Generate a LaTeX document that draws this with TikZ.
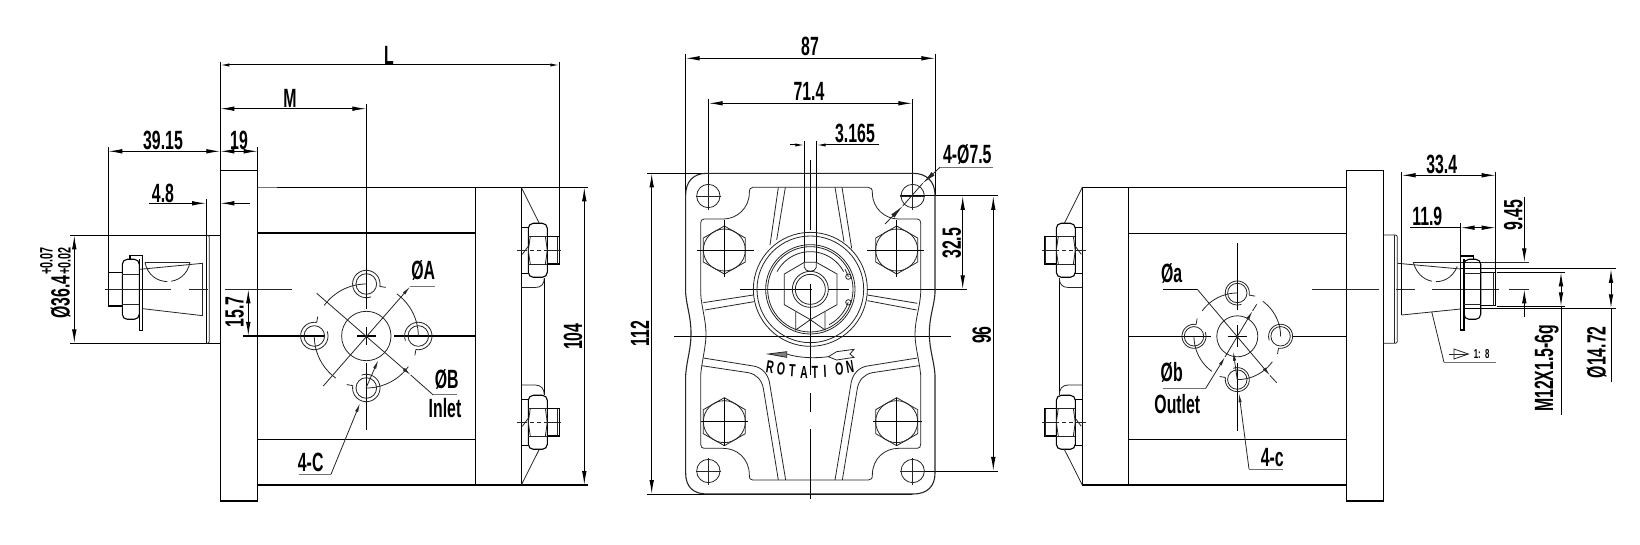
\documentclass[tikz,border=0pt]{standalone}
\usepackage{fontspec}
\usetikzlibrary{arrows.meta}
\newfontfamily\labf[FakeStretch=0.6,UprightFont=* Bold]{Liberation Sans}
\tikzset{
  dimtip/.tip={Latex[length=7pt,width=2.3pt]},
  smalltip/.tip={Latex[length=4.5pt,width=1.6pt]},
  ln/.style={line width=.55pt,black},
  thin line/.style={line width=.4pt,black!85},
  dl/.style={line width=.5pt,black},
  land/.style={line width=.5pt,black!55},
  lab/.style={inner sep=0pt,font=\labf\fontsize{13.2}{14}\selectfont},
  labs/.style={inner sep=0pt,font=\labf\fontsize{9}{10}\selectfont},
}
% arc with visual (counter-clockwise) angles: centre x, y, radius, from, to
\newcommand\xarc[6][thin line]{\draw[#1,domain=#5:#6,samples=36,variable=\t] plot ({#2+#4*cos(\t)},{#3-#4*sin(\t)});}
% port pattern: centre x, y, big radius, bolt circle radius, inner hole r, outer r
\newcommand\portpat[6]{%
  \draw[thin line] (#1,#2) circle[radius=#3];
  \foreach \a/\gx/\gy in {90/0/-1,180/-1/0,270/0/1,0/1/0}{
    \pgfmathsetmacro\hx{#1+\gx*#4}\pgfmathsetmacro\hy{#2+\gy*#4}
    \draw[thin line] (\hx,\hy) circle[radius=#5];
    \pgfmathsetmacro\sa{\a-100}\pgfmathsetmacro\sb{\a+200}
    \xarc{\hx}{\hy}{#6}{\sa}{\sb}
    \pgfmathsetmacro\ea{\a+54}
    \xarc{#1}{#2}{#4}{\a}{\ea}
    \draw[thin line] ({\hx+#6*cos(\a-100)},{\hy-#6*sin(\a-100)}) -- ({\hx+(#6+6)*cos(\a-100)},{\hy-(#6+6)*sin(\a-100)});
  }
}
% rear end of body with the two bolts: x0 = body end, direction +1 / -1
\newcommand\rearnut[1]{%
  \draw[ln] (0,#1-23) -- (7,#1-23) (0,#1+23) -- (7,#1+23);
  \draw[ln,rounded corners=2.5pt] (7,#1-27) rectangle (26,#1+27);
  \draw[thin line] (7,#1-14) -- (26,#1-14) (7,#1+14) -- (26,#1+14);
  \draw[thin line] (9,#1-14) -- (7,#1) -- (9,#1+14) (24,#1-14) -- (26,#1) -- (24,#1+14);
  \draw[ln] (26,#1-13.7) -- (38,#1-13.7) -- (38,#1+13.7) -- (26,#1+13.7);
  \draw[thin line] (36.5,#1-13.7) -- (36.5,#1+13.7);
  \draw[thin line] (-4,#1) -- (6,#1) (9,#1) -- (13,#1) (16,#1) -- (20,#1) (23,#1) -- (40,#1);
  \draw[thin line] (1,#1+4) -- (7,#1-4);
}
\newcommand\rearend[2]{%
  \begin{scope}[shift={(#1,0)},xscale=#2]
    \draw[ln] (0,187.3) -- (0,485);
    \rearnut{250.3}\rearnut{422.3}
    \draw[thin line] (0,187.3) -- (18,223.3) (0,485) -- (18,449.3);
    \draw[ln] (23,278) -- (23,395);
    \draw[thin line] (0,287.5) -- (14,287.5) .. controls (20,287.5) and (23,284) .. (23,278);
    \draw[thin line] (0,385) -- (14,385) .. controls (20,385) and (23,389) .. (23,395);
  \end{scope}
}
\newcommand\hexbolt[2]{%
  \begin{scope}[shift={(#1,#2)}]
    \draw[thin line] (0,-72) -- (63,-36) -- (63,36) -- (0,72) -- (-63,36) -- (-63,-36) -- cycle;
    \draw[thin line] (0,0) circle[radius=63];
  \end{scope}
}
\newcommand\fholer[2]{%
  \draw[thin line] (#1,#2) circle[radius=35];
  \draw[thin line] (#1-38,#2) -- (#1+38,#2) (#1,#2-38) -- (#1,#2+42);
}
\begin{document}
\begin{tikzpicture}[x=.5pt,y=-.5pt]
\useasboundingbox (0,0) rectangle (1640,545);
\fill[white] (0,0) rectangle (1640,545);

%%%%%%%%%%%%%%%% LEFT VIEW
\draw[ln] (220.3,62) -- (220.3,501) -- (257.7,501) -- (257.7,170.7) -- (220.3,170.7);
\draw[ln] (257.7,147) -- (257.7,170.7);
\draw[land] (257.7,187.3) -- (277,187.3);
\draw[ln] (277,187.3) -- (588,187.3);
\draw[ln] (257.7,485) -- (588,485);
\draw[ln] (257.7,233) -- (475.3,233) (257.7,439.3) -- (475.3,439.3);
\draw[ln] (475.3,187.3) -- (475.3,485);
\rearend{521.3}{1}
% dims
\draw[dl,{smalltip}-{smalltip}] (220.3,65) -- (559.3,65);
\draw[dl] (559.3,62) -- (559.3,237);
\node[lab] (L) at (389,55) {L};
\draw[dl,{dimtip}-{dimtip}] (220.3,108.7) -- (366.3,108.7);
\node[lab] (M) at (290,98) {M};
\draw[dl,{dimtip}-{dimtip}] (108.3,151.3) -- (220.3,151.3);
\draw[dl,{dimtip}-{dimtip}] (220.3,151.3) -- (257.7,151.3);
\node[lab] (d3915) at (163,140) {39.15};
\node[lab] (d19) at (239,140) {19};
\draw[dl] (108.3,147) -- (108.3,306);
\draw[dl,-{dimtip}] (149,203.3) -- (206,203.3);
\draw[dl,-{dimtip}] (250,203.3) -- (220.3,203.3);
\node[lab] (d48) at (163,193) {4.8};
\draw[dl] (206,199) -- (206,343);
\draw[dl] (70,235.3) -- (220.3,235.3) (70,343.3) -- (220.3,343.3);
\draw[dl,{dimtip}-{dimtip}] (74.3,235.3) -- (74.3,343.3);
\node[lab,rotate=90] (d364) at (60.5,297) {Ø36.4};
\node[labs,rotate=90] (tolu) at (46.5,261) {+0.07};
\node[labs,rotate=90] (toll) at (64.5,261) {+0.02};
% shaft
\draw[thin line,rounded corners=1pt] (206,235.3) -- (209.3,235.3) -- (209.3,343.3) -- (206,343.3);
\draw[thin line] (202.7,263.3) -- (202.7,315.7);
\draw[thin line] (202.7,263.3) -- (140,269.3) (202.7,315.7) -- (143,308.7);
\draw[thin line] (145,262.3) -- (190,262.3);
\draw[thin line,dash pattern=on 16pt off 2pt] (145,262.3) .. controls (150,288) and (185,288) .. (190,262.3);
\draw[ln] (139.3,259.3) -- (139.3,330.7) -- (142.7,330.7) -- (142.7,255.3) -- (130,255.3) -- (130,259.3);
\draw[ln,rounded corners=2.5pt] (122.3,259.3) rectangle (139.3,319.3);
\draw[thin line] (122.3,274) -- (139.3,274) (122.3,304.3) -- (139.3,304.3);
\draw[ln] (122.3,272.3) -- (108.3,272.3) -- (108.3,306) -- (122.3,306);
% centre lines
\draw[thin line] (105,289.3) -- (171,289.3) (189,289.3) -- (208,289.3) (225,289.3) -- (292,289.3);
\draw[ln] (243,336) -- (325,336) (357,336) -- (376,336) (394,336) -- (475.3,336);
\draw[ln] (366.3,104) -- (366.3,309.3) (366.3,326.7) -- (366.3,345) (366.3,363.3) -- (366.3,430);
\draw[dl,{dimtip}-{dimtip}] (248.3,289.3) -- (248.3,336);
\node[lab,rotate=90] (d157) at (234.7,311.7) {15.7};
\node[lab,rotate=90] (d104) at (573,336.7) {104};
\draw[dl,{dimtip}-{dimtip}] (584.3,187.3) -- (584.3,485);
% port
\portpat{366.3}{336}{24.7}{52}{10.3}{13.7}
\draw[thin line,-{smalltip}] (323.3,386) -- (410,286.7);
\draw[land] (410,286.7) -- (435,286.7);
\draw[thin line,-{smalltip}] (316.7,293.3) -- (410.7,375);
\draw[thin line] (410.7,375) -- (433.3,395);
\draw[land] (433.3,395) -- (456.7,395);
\node[lab] (oA) at (423.3,270.7) {ØA};
\node[lab] (oB) at (446.7,379.3) {ØB};
\node[lab] (inl) at (445,407.7) {Inlet};
\draw[land] (299,474.3) -- (331,474.3);
\draw[thin line,-{smalltip}] (331,474.3) -- (360,403.3);
\draw[thin line,-{smalltip}] (366,388) -- (378.3,360);
\node[lab] (c4C) at (310.7,462.7) {4-C};

%%%%%%%%%%%%%%%% FRONT VIEW
\draw[dl,{dimtip}-{dimtip}] (685.7,58.3) -- (935.3,58.3);
\draw[dl] (685.7,54) -- (685.7,196) (935.3,54) -- (935.3,196);
\node[lab] (d87) at (810,46.7) {87};
\draw[dl,{dimtip}-{dimtip}] (708.7,103.3) -- (912.3,103.3);
\draw[dl] (708.7,99) -- (708.7,210) (912.3,99) -- (912.3,210);
\node[lab] (d714) at (809,91.7) {71.4};
\draw[dl,-{smalltip}] (790,145) -- (804.3,145);
\draw[dl,-{smalltip}] (879,145) -- (816.7,145);
\draw[dl] (804.3,141) -- (804.3,262) (816.7,141) -- (816.7,262);
\draw[dl] (810.3,160) -- (810.3,230);
\node[lab] (d3165) at (855,133) {3.165};
\draw[dl] (647.3,173.3) -- (912,173.3) (647.3,494) -- (912,494);
\draw[dl,{dimtip}-{dimtip}] (651.7,173.3) -- (651.7,494);
\node[lab,rotate=90] (d112) at (640,333.3) {112};
\draw[dl] (900,196) -- (997.7,196) (900,471) -- (997.7,471);
\draw[dl,{dimtip}-{dimtip}] (962.7,196) -- (962.7,289.3);
\draw[dl,{dimtip}-{dimtip}] (993.3,196) -- (993.3,471);
\node[lab,rotate=90] (d325) at (951.7,243.3) {32.5};
\node[lab,rotate=90] (d96) at (981.7,335) {96};
\draw[dl] (866.7,289.3) -- (967.3,289.3);
\draw[dl] (740,289.3) -- (812,289.3) (828,289.3) -- (849,289.3);
\draw[dl] (674.3,336.3) -- (950.7,336.3);
\draw[dl] (810.3,284) -- (810.3,375) (810.3,393) -- (810.3,411.7) (810.3,429) -- (810.3,499.3);
\draw[thin line,-{dimtip}] (885,224) -- (902.7,206);
\draw[thin line] (902.7,206) -- (922.7,183.3);
\draw[thin line,-{dimtip}] (940,167.3) -- (922.7,183.3);
\draw[land] (940,167.3) -- (992.7,167.3);
\node[lab] (d75) at (967.3,154) {4-Ø7.5};
\begin{scope}[shift={(630,130)},x=.16667pt,y=-.16667pt]
  % outer outline
  \draw[ln,black!85] (230,130) .. controls (190,130) and (167,155) .. (167,195) -- (167,490) .. controls (170,530) and (183,560) .. (183,610) .. controls (183,660) and (170,690) .. (167,735) -- (167,1030) .. controls (167,1070) and (190,1092) .. (230,1092) -- (850,1092) .. controls (890,1092) and (915,1070) .. (915,1030) -- (915,735) .. controls (912,690) and (898,660) .. (898,610) .. controls (898,560) and (912,530) .. (915,490) -- (915,195) .. controls (915,155) and (890,130) .. (850,130) -- cycle;
  % recess
  \draw[thin line] (368,172) -- (715,172) .. controls (724,172) and (727,178) .. (727,188) .. controls (727,235) and (765,267) .. (805,267) -- (862,267) .. controls (869,267) and (872,272) .. (872,280) -- (872,490) .. controls (870,530) and (855,570) .. (855,612) .. controls (855,650) and (868,690) .. (872,735) -- (872,942) .. controls (872,950) and (869,955) .. (862,955) -- (805,955) .. controls (765,955) and (727,985) .. (727,1035) .. controls (727,1045) and (724,1050) .. (715,1050) -- (368,1050) .. controls (360,1050) and (358,1045) .. (358,1035) .. controls (358,985) and (320,955) .. (280,955) -- (222,955) .. controls (215,955) and (212,950) .. (212,942) -- (212,735) .. controls (216,690) and (228,650) .. (228,612) .. controls (228,570) and (214,530) .. (212,490) -- (212,280) .. controls (212,272) and (215,267) .. (222,267) -- (280,267) .. controls (320,267) and (358,235) .. (358,188) .. controls (358,178) and (361,172) .. (368,172) -- cycle;
  % ribs
  \draw[thin line] (466,172) -- (440,330) (445,172) -- (420,345);
  \draw[thin line] (615,172) -- (642,335) (636,172) -- (665,355);
  \draw[thin line] (220,518) -- (370,495) (225,540) -- (372,515);
  \draw[thin line] (712,495) -- (862,520) (712,512) -- (860,540);
  \draw[thin line] (220,684) -- (370,708) .. controls (395,712) and (412,730) .. (418,755) -- (467,1050);
  \draw[thin line] (215,707) -- (355,728) .. controls (380,733) and (395,750) .. (400,775) -- (445,1050);
  \draw[thin line] (862,684) -- (712,708) .. controls (687,712) and (670,730) .. (664,755) -- (615,1050);
  \draw[thin line] (867,707) -- (727,728) .. controls (702,733) and (687,750) .. (682,775) -- (637,1050);
  % corner holes
  \fholer{235}{198}\fholer{848}{198}\fholer{235}{1023}\fholer{848}{1023}
  % hex bolts
  \hexbolt{283}{360}\hexbolt{800}{360}\hexbolt{283}{875}\hexbolt{800}{875}
  \draw[dl] (200,360) -- (372,360) (283,270) -- (283,442);
  \draw[dl] (712,360) -- (882,360) (800,270) -- (800,442);
  \draw[dl] (212,875) -- (355,875) (283,803) -- (283,947);
  \draw[dl] (730,875) -- (875,875) (800,803) -- (800,947);
  % centre boss
  \foreach \r in {171,160,134,128}{\draw[thin line] (541,478) circle[radius=\r];}
  \xarc{541}{478}{113}{28}{152}
  \xarc{541}{478}{120}{18}{30}
  \xarc{541}{478}{120}{-62}{-19}
  \draw[thin line] (655,440) circle[radius=8] (655,517) circle[radius=8];
  \draw[thin line] (523,397) -- (463,432) -- (463,524) -- (541,569) -- (621,524) -- (621,432) -- (559,397);
  \draw[thin line] (523,397) -- (559,397) -- (559,412) .. controls (556,428) and (526,428) .. (523,412) -- cycle;
  \draw[thin line] (541,478) circle[radius=54] (541,478) circle[radius=45];
  \draw[thin line] (497,545) -- (497,600) -- (541,569) -- (585,600) -- (585,545);
  % rotation mark
  \draw[thin line] (470,672) .. controls (510,685) and (560,685) .. (595,680);
  \draw[thin line,fill=black!50] (415,672) -- (470,665) -- (470,682) -- cycle;
  \draw[thin line] (595,680) -- (620,665) -- (672,658) -- (660,672) -- (672,682) -- (620,690) -- cycle;
  \foreach \tx/\ty/\rt/\ch in {420/712/-9/R,453/717/-6/O,487/722/-4/T,522/727/-1/A,555/728/1/T,585/724/3/I,628/716/6/O,660/710/9/N}{
    \node[inner sep=0pt,font=\labf\fontsize{8.8}{9}\selectfont,rotate=\rt] at (\tx,\ty) {\ch};
  }
\end{scope}

%%%%%%%%%%%%%%%% RIGHT VIEW
\draw[ln] (1082.3,187.3) -- (1346.3,187.3) (1082.3,485) -- (1346.3,485);
\draw[ln] (1128.3,187.3) -- (1128.3,485);
\draw[ln] (1128.3,233.3) -- (1346.3,233.3) (1128.3,439.3) -- (1346.3,439.3);
\draw[ln] (1346.3,170.3) rectangle (1383.3,501);
\rearend{1082.3}{-1}
\draw[ln] (1128.3,336.3) -- (1211,336.3) (1227.7,336.3) -- (1247.3,336.3) (1291.7,336.3) -- (1346.3,336.3);
\draw[ln] (1237.3,243.3) -- (1237.3,310) (1237.3,325) -- (1237.3,347) (1237.3,363.3) -- (1237.3,430.7);
\draw[thin line] (1312.3,289.3) -- (1379,289.3) (1396,289.3) -- (1415,289.3) (1431.7,289.3) -- (1499,289.3) (1509,289.3) -- (1529,289.3);
\portpat{1237.3}{336.3}{20.5}{43.3}{9.7}{12}
\draw[dl] (1163.3,289.3) -- (1197.3,289.3);
\draw[thin line,-{smalltip}] (1197.3,289.3) -- (1270,375.5);
\draw[thin line] (1270,375.5) -- (1276.7,382.7);
\node[lab] (oa) at (1171.7,273.3) {Øa};
\draw[land] (1163.3,388.3) -- (1205.7,388.3);
\draw[thin line,-{smalltip}] (1205.7,388.3) -- (1225,357);
\draw[thin line,-{smalltip}] (1225,357) -- (1252.5,311);
\draw[thin line] (1252.5,311) -- (1256.7,304.3);
\node[lab] (ob) at (1171.7,372.3) {Øb};
\node[lab] (outl) at (1177.3,404) {Outlet};
\draw[land] (1283.3,469) -- (1249,469);
\draw[thin line,-{smalltip}] (1249,469) -- (1239,393.3);
\draw[thin line,-{smalltip}] (1237.3,380) -- (1233.3,351.7);
\node[lab] (c4c) at (1272.3,457.7) {4-c};
% shaft
\draw[thin line,rounded corners=1pt] (1383.3,235) -- (1397.3,235) -- (1397.3,343.3) -- (1383.3,343.3);
\draw[thin line] (1394,235) -- (1394,343.3);
\draw[thin line] (1397.3,263.3) -- (1460.7,269);
\draw[thin line] (1401.7,315) -- (1460.7,309);
\draw[dl] (1401.7,171.7) -- (1401.7,315);
\draw[thin line] (1413.3,262.3) -- (1529,262.3);
\draw[thin line,dash pattern=on 14pt off 2pt] (1413.3,262.3) .. controls (1420,288) and (1452,288) .. (1458.3,263);
\draw[ln] (1460.7,223.3) -- (1460.7,330) -- (1464,330) -- (1464,259.3);
\draw[ln] (1460.7,256) -- (1473.5,256) -- (1473.5,259.3);
\draw[ln,rounded corners=2.5pt] (1464,259.3) rectangle (1480.7,319.3);
\draw[thin line] (1464,273.3) -- (1480.7,273.3) (1464,304) -- (1480.7,304);
\draw[ln] (1480.7,272.3) -- (1495.7,272.3) -- (1495.7,305.7) -- (1480.7,305.7);
\draw[thin line] (1493.3,272.3) -- (1493.3,305.7);
\draw[dl] (1460.7,269) -- (1616,269) (1464,308.3) -- (1616,308.3);
\draw[dl] (1496.7,272.3) -- (1565,272.3) (1496.7,306.3) -- (1565,306.3);
\draw[dl,{dimtip}-{dimtip}] (1401.7,175.3) -- (1495.7,175.3);
\draw[dl] (1495.7,171.7) -- (1495.7,272.3);
\node[lab] (d334) at (1441.7,164.3) {33.4};
\draw[dl] (1410,227.7) -- (1460.7,227.7);
\draw[dl,{dimtip}-{dimtip}] (1460.7,227.7) -- (1495.7,227.7);
\node[lab] (d119) at (1427.3,216.7) {11.9};
\draw[dl,-{dimtip}] (1524.3,196.7) -- (1524.3,262.3);
\draw[dl,-{dimtip}] (1524.3,317.3) -- (1524.3,289.3);
\node[lab,rotate=90] (d945) at (1513.3,215) {9.45};
\draw[dl,{dimtip}-{dimtip}] (1561,272.3) -- (1561,306.3);
\draw[dl] (1561,306.3) -- (1561,415);
\node[lab,rotate=90] (dm12) at (1546.7,368.3) {M12X1.5-6g};
\draw[dl,{dimtip}-{dimtip}] (1611,269) -- (1611,308.3);
\draw[dl] (1611,308.3) -- (1611,381.7);
\node[lab,rotate=90] (d1472) at (1596.7,352.3) {Ø14.72};
% taper note
\draw[thin line] (1431.7,311.7) -- (1444,362.3);
\draw[land] (1444,362.3) -- (1495.7,362.3);
\draw[thin line] (1449.3,354) -- (1468.3,354);
\draw[thin line] (1454,349) -- (1468.3,354) -- (1454,359) -- cycle;
\node[inner sep=0pt,font=\labf\fontsize{6.5}{7}\selectfont] (tap) at (1481.7,354) {1:\,\,8};
\end{tikzpicture}
\end{document}
